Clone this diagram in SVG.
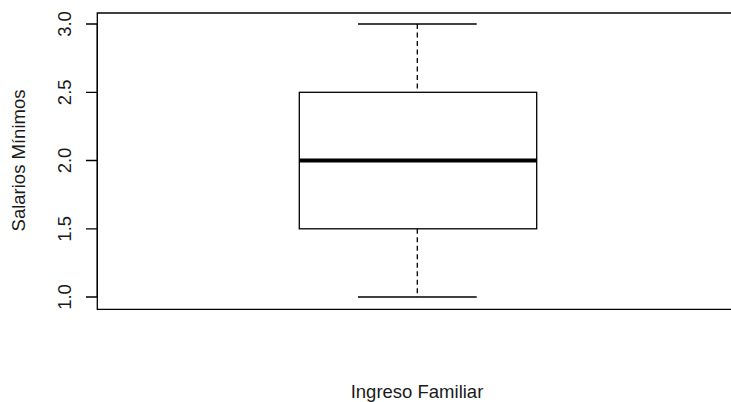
<svg xmlns="http://www.w3.org/2000/svg" width="731" height="402" viewBox="0 0 731 402">
<style>
.ln{stroke:#000;stroke-width:1.3;fill:none}
.dash{stroke:#000;stroke-width:1.3;fill:none;stroke-dasharray:5,3.5}
.t{font-family:"Liberation Sans",Arial,sans-serif;font-size:18.5px;fill:#1a1a1a}
</style>
<rect x="0" y="0" width="731" height="402" fill="#fff"/>
<g id="frame">
<path class="ln" d="M733 13 H97.3 V309.3 H733"/>
</g>
<g id="yaxis">
<path class="ln" d="M97.3 24 V297 M86 24 H97.3 M86 92.3 H97.3 M86 160.5 H97.3 M86 228.8 H97.3 M86 297 H97.3"/>
<text class="t" text-anchor="middle" transform="translate(71,24) rotate(-90)">3.0</text>
<text class="t" text-anchor="middle" transform="translate(71,92.3) rotate(-90)">2.5</text>
<text class="t" text-anchor="middle" transform="translate(71,160.5) rotate(-90)">2.0</text>
<text class="t" text-anchor="middle" transform="translate(71,228.8) rotate(-90)">1.5</text>
<text class="t" text-anchor="middle" transform="translate(71,297) rotate(-90)">1.0</text>
<text class="t" text-anchor="middle" transform="translate(25,160.5) rotate(-90)">Salarios Mínimos</text>
</g>
<g id="xlabel">
<text class="t" x="417" y="398" text-anchor="middle">Ingreso Familiar</text>
</g>
<g id="box">
<rect class="ln" x="299.3" y="92.3" width="237.4" height="136.5"/>
<line x1="299.3" y1="160.5" x2="536.7" y2="160.5" stroke="#000" stroke-width="3.8"/>
</g>
<g id="connectors">
<line class="dash" x1="417.3" y1="24" x2="417.3" y2="92.3"/>
<line class="dash" x1="417.3" y1="228.8" x2="417.3" y2="297"/>
<line class="ln" x1="358" y1="24" x2="476.7" y2="24"/>
<line class="ln" x1="358" y1="297" x2="476.7" y2="297"/>
</g>
</svg>
